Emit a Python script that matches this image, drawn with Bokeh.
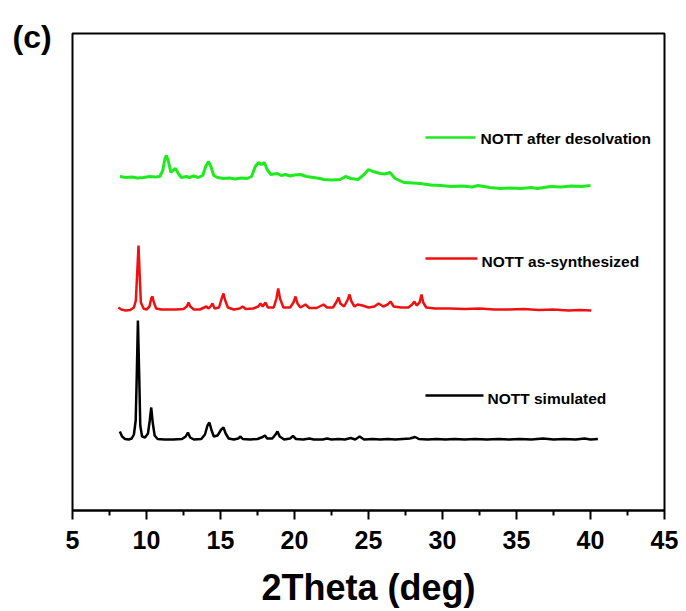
from bokeh.plotting import figure
from bokeh.models import Range1d, FixedTicker, Title
from bokeh.core.properties import value
from bokeh.embed import file_html
from bokeh.resources import INLINE

# Powder XRD patterns, 2-theta in degrees, intensity in arbitrary units
sim_2theta = [8.2, 8.35, 8.55, 8.8, 9.0, 9.15, 9.27, 9.35, 9.42, 9.5, 9.58, 9.7, 9.9,
              10.1, 10.22, 10.32, 10.42, 10.55, 10.75, 11.2, 11.8, 12.4, 12.65, 12.8,
              12.95, 13.2, 13.7, 13.95, 14.12, 14.25, 14.4, 14.55, 14.8, 15.05, 15.2,
              15.35, 15.55, 15.9, 16.2, 16.35, 16.5, 17.0, 17.5, 17.85, 18.0, 18.15,
              18.5, 18.72, 18.85, 19.0, 19.3, 19.7, 19.9, 20.1, 20.6, 21.0, 21.3, 21.9,
              22.2, 22.5, 23.0, 23.4, 23.8, 24.1, 24.4, 24.7, 25.3, 25.8, 26.3, 26.8,
              27.3, 27.8, 28.15, 28.4, 29.0, 29.6, 30.2, 30.8, 31.5, 32.2, 33.0, 33.8,
              34.5, 35.2, 36.0, 36.8, 37.5, 38.2, 39.0, 39.6, 40.0, 40.5]
sim_int = [14, 9, 6.5, 6, 7, 11, 25, 75, 125, 75, 20, 9, 8,
           12, 25, 38, 23, 10, 6.5, 6, 6, 6.5, 9, 13,
           8, 6, 6.5, 11, 20, 23, 15, 9, 10, 16, 18,
           12, 7, 6, 7, 9, 6.5, 6, 6.5, 8.5, 10, 7,
           7, 11, 14, 9, 6, 7, 9.5, 6.5, 6, 7, 6, 6,
           7, 6, 6.5, 6, 7.5, 6, 9, 6, 6.5, 6, 6.5, 6,
           6.5, 7, 8.5, 6.5, 6, 6.5, 6, 6.5, 6, 6.5, 6, 6.5,
           6, 6.5, 6, 7, 6, 6.5, 6, 7, 6, 6.5]

syn_2theta = [8.1, 8.3, 8.6, 8.9, 9.15, 9.28, 9.38, 9.46, 9.54, 9.62, 9.8, 10.0, 10.2,
              10.32, 10.4, 10.5, 10.65, 11.0, 11.5, 12.0, 12.5, 12.72, 12.84, 12.96,
              13.2, 13.6, 13.9, 14.05, 14.2, 14.38, 14.46, 14.6, 14.9, 15.08, 15.2,
              15.32, 15.5, 15.9, 16.3, 16.5, 16.7, 17.2, 17.55, 17.7, 17.85, 18.04,
              18.2, 18.6, 18.78, 18.9, 19.02, 19.25, 19.7, 19.93, 20.07, 20.2, 20.4,
              20.74, 21.0, 21.5, 21.96, 22.2, 22.6, 22.85, 22.97, 23.1, 23.35, 23.6,
              23.72, 23.85, 24.05, 24.26, 24.6, 25.0, 25.4, 25.68, 26.0, 26.3, 26.49,
              26.7, 27.2, 27.7, 27.95, 28.1, 28.25, 28.45, 28.58, 28.7, 28.9, 29.5,
              30.5, 31.5, 32.5, 33.5, 34.5, 35.5, 36.5, 37.5, 38.5, 39.3, 40.05]
syn_int = [8, 6, 5, 5.5, 8, 15, 45, 70, 40, 13, 7, 6, 9,
           17, 19, 13, 7, 6, 6, 6, 6.5, 9, 13, 9,
           6, 6, 8, 9, 7, 10, 12, 7, 8, 17, 22,
           15, 8, 6, 7, 9, 6.5, 7, 9, 12, 9, 13,
           8, 8, 17, 27, 17, 8, 8, 13, 19, 12, 8,
           11, 7.5, 7.5, 11, 8, 8, 14, 18, 12, 9, 16,
           21, 14, 9, 11, 10, 8, 9, 12, 9, 11, 14,
           9, 8, 8, 11, 14, 10, 13, 21, 13, 8, 7,
           7, 6.5, 7, 6, 6, 6.5, 5.5, 6, 5, 5.5, 5]

des_2theta = [8.2, 8.6, 9.0, 9.4, 9.8, 10.2, 10.6, 10.9, 11.1, 11.25, 11.35, 11.5, 11.65,
              11.8, 11.96, 12.15, 12.35, 12.7, 12.9, 13.2, 13.5, 13.8, 14.0, 14.19,
              14.35, 14.55, 14.8, 15.2, 15.6, 16.0, 16.4, 16.8, 17.1, 17.35, 17.57,
              17.75, 17.97, 18.15, 18.4, 18.85, 19.1, 19.4, 19.7, 20.0, 20.4, 20.8,
              21.3, 21.7, 22.0, 22.5, 23.1, 23.45, 23.8, 24.3, 24.7, 25.0, 25.3, 25.8,
              26.1, 26.45, 26.8, 27.4, 28.0, 28.5, 29.2, 29.9, 30.6, 31.3, 32.0, 32.4,
              33.2, 33.9, 34.6, 35.3, 36.0, 36.4, 37.3, 38.0, 38.7, 39.4, 40.0]
des_int = [14, 13, 13.5, 12.5, 13, 14, 13.5, 14, 20, 32, 35, 28, 18,
           20, 22, 17, 13, 14, 13, 14.5, 13, 15, 24, 29,
           24, 15, 13, 12, 12.5, 11.5, 12.5, 12, 14, 24, 28,
           26, 28, 21, 16, 17, 15, 16, 14.5, 15.5, 16, 14,
           13, 12, 11, 10.5, 11, 14, 12, 11, 16, 21, 19, 17,
           16.5, 18, 12, 8, 7.5, 7, 5.5, 5, 4, 4.5, 3.5, 5,
           3, 2, 2.5, 2, 3, 2, 4, 3.5, 4.5, 4, 5]

# Vertical stacking offsets of the three patterns
sim_offset = 65
syn_offset = 195
des_offset = 320

x_ticks = [5, 10, 15, 20, 25, 30, 35, 40, 45]
x_minor = [7.5, 12.5, 17.5, 22.5, 27.5, 32.5, 37.5, 42.5]

series_names = ["NOTT after desolvation", "NOTT as-synthesized", "NOTT simulated"]
series_colors = ["#1EEB1E", "#F01010", "#000000"]

FONT = "Liberation Sans"

p = figure(width=686, height=611, output_backend="svg", toolbar_location=None,
           x_range=Range1d(5, 45), y_range=Range1d(0, 477),
           y_axis_location=None,
           min_border_left=72, min_border_right=22, min_border_top=33,
           min_border_bottom=101)
p.grid.visible = False
p.background_fill_color = "white"
p.border_fill_color = "white"
p.outline_line_color = "black"
p.outline_line_width = 2

# Panel tag in the top-left corner
p.title = Title(text="(c)", align="left", offset=-60, standoff=-42,
                text_font=FONT, text_font_style="bold", text_font_size="32px",
                text_color="black")

ax = p.xaxis[0]
ax.ticker = FixedTicker(ticks=x_ticks, minor_ticks=x_minor)
ax.axis_line_width = 2
ax.major_tick_line_width = 2
ax.minor_tick_line_width = 2
ax.major_tick_out = 9
ax.major_tick_in = 0
ax.minor_tick_out = 5
ax.minor_tick_in = 0
ax.major_label_text_font = FONT
ax.major_label_text_font_style = "bold"
ax.major_label_text_font_size = "25px"
ax.major_label_text_color = "black"
ax.major_label_standoff = 11
ax.axis_label = "2Theta (deg)"
ax.axis_label_text_font = FONT
ax.axis_label_text_font_style = "bold"
ax.axis_label_text_font_size = "36px"
ax.axis_label_text_color = "black"
ax.axis_label_standoff = 15

des_y = [v + des_offset for v in des_int]
syn_y = [v + syn_offset for v in syn_int]
sim_y = [v + sim_offset for v in sim_int]

p.line(des_2theta, des_y, line_color=series_colors[0], line_width=3)
p.line(syn_2theta, syn_y, line_color=series_colors[1], line_width=2.5)
p.line(sim_2theta, sim_y, line_color=series_colors[2], line_width=2.5)

# Key entries: a short line sample followed by the series name
key_x0 = [28.85, 28.85, 28.85]
key_x1 = [32.23, 32.36, 32.77]
key_y = [373, 252, 115]
key_text_x = [32.57, 32.64, 33.04]
key_text_y = [372, 249, 112]
p.segment(x0=key_x0, y0=key_y, x1=key_x1, y1=key_y, line_color=series_colors,
          line_width=2.5)
p.text(x=key_text_x, y=key_text_y, text=series_names, text_font=value(FONT),
       text_font_style="bold", text_font_size="15.5px", text_color="black",
       text_baseline="middle", text_align="left")

open("out.html", "w").write(file_html(p, INLINE))
